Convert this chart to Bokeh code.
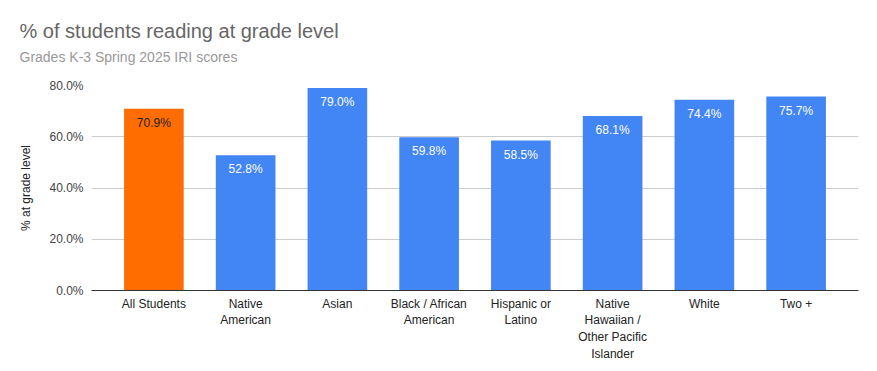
from bokeh.plotting import figure
from bokeh.models import ColumnDataSource, FactorRange, Range1d, PrintfTickFormatter, Title, FixedTicker
from bokeh.embed import file_html
from bokeh.resources import INLINE

categories = ["All Students", "Native American", "Asian", "Black / African American",
              "Hispanic or Latino", "Native Hawaiian / Other Pacific Islander", "White", "Two +"]
tick_labels = ["All Students", "Native\nAmerican", "Asian", "Black / African\nAmerican",
               "Hispanic or\nLatino", "Native\nHawaiian /\nOther Pacific\nIslander", "White", "Two +"]
values = [70.9, 52.8, 79.0, 59.8, 58.5, 68.1, 74.4, 75.7]
bar_colors = ["#ff6d01", "#4285f4", "#4285f4", "#4285f4", "#4285f4", "#4285f4", "#4285f4", "#4285f4"]
label_colors = ["#222222", "#ffffff", "#ffffff", "#ffffff", "#ffffff", "#ffffff", "#ffffff", "#ffffff"]
y_ticks = [0, 20, 40, 60, 80]

FONT = "Liberation Sans"

source = ColumnDataSource(dict(
    cat=tick_labels, val=values, color=bar_colors, lcolor=label_colors,
    label=[f"{v:.1f}%" for v in values],
))

p = figure(
    frame_width=767, frame_height=205, output_backend="svg", toolbar_location=None,
    x_range=FactorRange(*tick_labels, range_padding=0.045),
    y_range=Range1d(0, 80), title=None,
    min_border_left=91, min_border_right=19, min_border_bottom=81, min_border_top=85,
)

spacer = Title(text=" ", text_font=FONT, text_font_size="1px", standoff=18)
sub = Title(text="Grades K-3 Spring 2025 IRI scores", text_font=FONT, text_font_size="14px",
            text_color="#999999", text_font_style="normal", offset=-72, standoff=0)
main = Title(text="% of students reading at grade level", text_font=FONT, text_font_size="20px",
             text_color="#666666", text_font_style="normal", offset=-72, standoff=9)
p.add_layout(spacer, "above")
p.add_layout(sub, "above")
p.add_layout(main, "above")

p.vbar(x="cat", top="val", width=0.65, color="color", source=source, line_color=None)
p.text(x="cat", y="val", text="label", text_color="lcolor", source=source,
       text_align="center", text_baseline="top", y_offset=7,
       text_font_size="12px", text_font={"value": FONT})

p.outline_line_color = None
p.background_fill_color = "white"
p.border_fill_color = "white"

p.xgrid.grid_line_color = None
p.ygrid.grid_line_color = "#cccccc"
p.ygrid.ticker = FixedTicker(ticks=y_ticks)

p.yaxis.ticker = FixedTicker(ticks=y_ticks)
p.yaxis.formatter = PrintfTickFormatter(format="%.1f%%")
p.yaxis.axis_line_color = None
p.yaxis.major_tick_line_color = None
p.yaxis.minor_tick_line_color = None
p.yaxis.major_label_text_font = FONT
p.yaxis.major_label_text_font_size = "12px"
p.yaxis.major_label_text_color = "#444444"
p.yaxis.major_label_standoff = 2
p.yaxis.axis_label = "% at grade level"
p.yaxis.axis_label_text_font = FONT
p.yaxis.axis_label_text_font_size = "12px"
p.yaxis.axis_label_text_font_style = "normal"
p.yaxis.axis_label_text_color = "#222222"
p.yaxis.axis_label_standoff = 13

p.xaxis.axis_line_color = "#333333"
p.xaxis.major_tick_line_color = None
p.xaxis.minor_tick_line_color = None
p.xaxis.major_label_text_font = FONT
p.xaxis.major_label_text_font_size = "12px"
p.xaxis.major_label_text_color = "#222222"
p.xaxis.major_label_standoff = 0
p.xaxis.major_label_text_align = "center"
p.xaxis.major_label_text_baseline = "top"

open("out.html", "w").write(file_html(p, INLINE))
